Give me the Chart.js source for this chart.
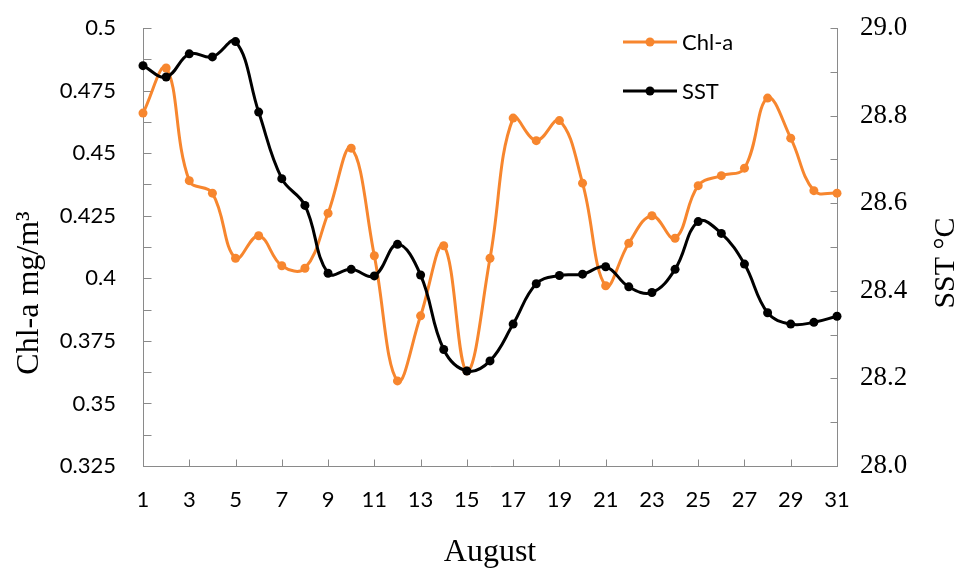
<!DOCTYPE html>
<html>
<head>
<meta charset="utf-8">
<script src="https://cdn.jsdelivr.net/npm/chart.js@4.4.1/dist/chart.umd.min.js"></script>
<style>
  html, body { margin: 0; padding: 0; background: #ffffff; }
  #wrap { position: relative; width: 957px; height: 569px; }
</style>
</head>
<body>
<div id="wrap"><canvas id="c" width="957" height="569"></canvas></div>
<script>
// ---- data ----
const days = [1,2,3,4,5,6,7,8,9,10,11,12,13,14,15,16,17,18,19,20,21,22,23,24,25,26,27,28,29,30,31];
const chla = [0.466,0.484,0.439,0.434,0.408,0.417,0.405,0.404,0.426,0.452,0.409,0.359,0.385,0.413,0.363,0.408,0.464,0.455,0.463,0.438,0.397,0.414,0.425,0.416,0.437,0.441,0.444,0.472,0.456,0.435,0.434];
const sst  = [28.914,28.888,28.941,28.934,28.969,28.808,28.656,28.595,28.44,28.449,28.434,28.506,28.436,28.266,28.217,28.24,28.324,28.416,28.435,28.438,28.455,28.409,28.396,28.449,28.558,28.531,28.461,28.35,28.324,28.328,28.342];
const seriesNames = ["Chl-a", "SST"];
const xTitle = "August";
const yLeftTitle = "Chl-a mg/m\u00B3";
const yRightTitle = "SST \u00B0C";
const xTickLabels = [1,3,5,7,9,11,13,15,17,19,21,23,25,27,29,31];
const yLeftTickLabels = ["0.325","0.35","0.375","0.4","0.425","0.45","0.475","0.5"];
const yRightTickLabels = ["28.0","28.2","28.4","28.6","28.8","29.0"];

const ORANGE = '#F7862E';
const BLACK = '#000000';
const AXIS = '#8a8a8a';
const SANS = 'Lato, "Open Sans", sans-serif';
const SERIF = '"Liberation Serif", "DejaVu Serif", serif';

const extras = {
  id: 'extras',
  beforeDatasetsDraw(chart) {
    const ctx = chart.ctx, ca = chart.chartArea;
    const y = chart.scales.y, y1 = chart.scales.y1, x = chart.scales.x;
    ctx.save();
    ctx.strokeStyle = AXIS;
    ctx.lineWidth = 1;
    ctx.beginPath();
    const L = Math.round(ca.left) + 0.5, R = Math.round(ca.right) + 0.5, B = Math.round(ca.bottom) + 0.5;
    for (let k = 0; k <= 14; k++) {
      const py = Math.round(y.getPixelForValue(0.325 + k * 0.0125)) + 0.5;
      ctx.moveTo(L, py); ctx.lineTo(L + 8, py);
    }
    for (let k = 0; k <= 10; k++) {
      const py = Math.round(y1.getPixelForValue(28 + k * 0.1)) + 0.5;
      ctx.moveTo(R - 7, py); ctx.lineTo(R, py);
    }
    for (const d of xTickLabels) {
      const px = Math.round(x.getPixelForValue(d)) + 0.5;
      ctx.moveTo(px, B); ctx.lineTo(px, B - 7);
    }
    ctx.stroke();
    ctx.restore();
  },
  afterDraw(chart) {
    const ctx = chart.ctx;
    ctx.save();
    // y titles
    ctx.fillStyle = '#000';
    ctx.textAlign = 'center';
    ctx.textBaseline = 'alphabetic';
    ctx.font = '32px ' + SERIF;
    ctx.save(); ctx.translate(38, 293); ctx.rotate(-Math.PI / 2); ctx.fillText(yLeftTitle, 0, 0); ctx.restore();
    ctx.font = '30px ' + SERIF;
    ctx.save(); ctx.translate(954, 263); ctx.rotate(-Math.PI / 2); ctx.fillText(yRightTitle, 0, 0); ctx.restore();
    // legend
    const items = [{name: seriesNames[0], color: ORANGE, y: 42}, {name: seriesNames[1], color: BLACK, y: 91}];
    ctx.textAlign = 'left';
    ctx.textBaseline = 'middle';
    ctx.font = '22px ' + SANS;
    for (const it of items) {
      ctx.strokeStyle = it.color; ctx.lineWidth = 3;
      ctx.beginPath(); ctx.moveTo(623, it.y); ctx.lineTo(677, it.y); ctx.stroke();
      ctx.fillStyle = it.color;
      ctx.beginPath(); ctx.arc(650, it.y, 4.5, 0, Math.PI * 2); ctx.fill();
      ctx.fillStyle = '#000';
      ctx.fillText(it.name, 682, it.y + 1);
    }
    ctx.restore();
  }
};

new Chart(document.getElementById('c'), {
  type: 'line',
  data: {
    datasets: [
      {
        label: seriesNames[0],
        data: days.map((d, i) => ({x: d, y: chla[i]})),
        yAxisID: 'y',
        borderColor: ORANGE, backgroundColor: ORANGE,
        pointBackgroundColor: ORANGE, pointBorderColor: ORANGE,
        borderWidth: 3, pointRadius: 4.5, pointBorderWidth: 0,
        tension: 0.4, clip: false, order: 1
      },
      {
        label: seriesNames[1],
        data: days.map((d, i) => ({x: d, y: sst[i]})),
        yAxisID: 'y1',
        borderColor: BLACK, backgroundColor: BLACK,
        pointBackgroundColor: BLACK, pointBorderColor: BLACK,
        borderWidth: 3, pointRadius: 4.5, pointBorderWidth: 0,
        tension: 0.4, clip: false, order: 0
      }
    ]
  },
  options: {
    responsive: false,
    animation: false,
    devicePixelRatio: 1,
    layout: { padding: { top: 28, left: 0, right: 0, bottom: 0 } },
    plugins: { legend: { display: false }, tooltip: { enabled: false } },
    scales: {
      x: {
        type: 'linear', min: 1, max: 31,
        grid: { display: false, drawTicks: false },
        border: { display: true, color: AXIS, width: 1 },
        ticks: {
          stepSize: 2, padding: 21, maxRotation: 0, autoSkip: false,
          color: '#000', font: { family: SANS, size: 22 },
          callback: (v) => xTickLabels.includes(v) ? String(v) : ''
        },
        title: { display: true, text: xTitle, color: '#000', font: { family: SERIF, size: 32, lineHeight: 1 }, padding: { top: 0, bottom: 0 } },
        afterFit(s) { s.height = 103; s.paddingLeft = 0; s.paddingRight = 0; }
      },
      y: {
        type: 'linear', position: 'left', min: 0.325, max: 0.5,
        grid: { display: false, drawTicks: false },
        border: { display: true, color: AXIS, width: 1 },
        ticks: {
          stepSize: 0.025, padding: 27, color: '#000', font: { family: SANS, size: 22 },
          callback: (v) => { const s = String(+v.toFixed(3)); return yLeftTickLabels.includes(s) ? s : ''; }
        },
        afterFit(s) { s.width = 143; s.paddingTop = 0; s.paddingBottom = 0; }
      },
      y1: {
        type: 'linear', position: 'right', min: 28, max: 29,
        grid: { display: false, drawTicks: false },
        border: { display: true, color: AXIS, width: 1 },
        ticks: {
          stepSize: 0.2, padding: 23, color: '#000', font: { family: SERIF, size: 27 },
          callback: (v) => { const s = v.toFixed(1); return yRightTickLabels.includes(s) ? s : ''; }
        },
        afterFit(s) { s.width = 120; s.paddingTop = 0; s.paddingBottom = 0; }
      }
    }
  },
  plugins: [extras]
});
</script>
</body>
</html>
